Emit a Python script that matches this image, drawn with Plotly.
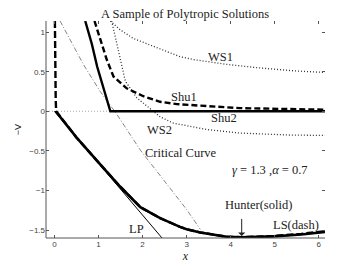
import plotly.graph_objects as go

# ---- data ----
hunter_x = [0.03, 0.5, 1.04, 1.27, 1.49, 1.95, 2.40, 2.85, 3.0, 3.31, 3.57, 3.91, 4.25, 4.6, 4.97, 5.6, 6.14]
hunter_y = [0.0, -0.33, -0.67, -0.82, -0.95, -1.21, -1.35, -1.46, -1.49, -1.53, -1.555, -1.585, -1.59, -1.588, -1.58, -1.555, -1.525]

ls_x = [0.012, 0.015, 0.02, 0.03, 0.04, 0.5, 1.04, 1.27, 1.49, 1.95, 2.40, 2.85, 3.0, 3.31, 3.57, 3.91, 4.25, 4.6, 4.97, 5.6, 6.14]
ls_y = [1.14, 0.8, 0.45, 0.15, 0.0, -0.33, -0.67, -0.82, -0.95, -1.21, -1.35, -1.46, -1.49, -1.53, -1.555, -1.585, -1.59, -1.585, -1.575, -1.548, -1.515]

shu2_x = [0.70, 0.85, 0.97, 1.10, 1.27, 6.14]
shu2_y = [1.14, 0.85, 0.565, 0.32, 0.0, 0.0]

shu1_x = [0.91, 1.04, 1.19, 1.34, 1.64, 2.02, 2.40, 2.78, 3.56, 4.21, 4.69, 6.14]
shu1_y = [1.14, 0.90, 0.65, 0.44, 0.29, 0.19, 0.12, 0.09, 0.06, 0.04, 0.035, 0.02]

ws1_x = [1.27, 1.49, 1.79, 2.17, 2.55, 2.85, 3.19, 3.94, 4.70, 5.45, 6.14]
ws1_y = [1.14, 1.03, 0.92, 0.84, 0.75, 0.69, 0.65, 0.59, 0.545, 0.51, 0.49]

ws2_x = [1.30, 1.42, 1.49, 1.61, 1.87, 2.17, 2.40, 2.70, 3.46, 4.21, 5.35, 6.14]
ws2_y = [1.14, 0.85, 0.71, 0.38, 0.17, 0.03, -0.07, -0.15, -0.23, -0.275, -0.30, -0.305]

crit_x = [0.13, 0.40, 0.66, 1.04, 1.42, 1.95, 2.55, 3.0, 3.31]
crit_y = [1.14, 0.86, 0.59, 0.25, -0.04, -0.49, -0.91, -1.24, -1.49]

lp_x = [0.0, 2.45]
lp_y = [0.0, -1.605]

zero_x = [-0.19, 6.14]
zero_y = [0.0, 0.0]

x_ticks = [0, 1, 2, 3, 4, 5, 6]
y_ticks = [-1.5, -1, -0.5, 0, 0.5, 1]
y_ticklabels = ["\u22121.5", "\u22121", "\u22120.5", "0", "0.5", "1"]

labels = ["WS1", "Shu1", "Shu2", "WS2", "Critical Curve", "LP", "LS(dash)", "Hunter(solid)"]
label_x = [3.78, 2.93, 3.85, 2.38, 2.87, 1.86, 5.48, 4.62]
label_y = [0.69, 0.18, -0.085, -0.23, -0.53, -1.49, -1.43, -1.18]

arrow_x = 4.25
arrow_y_tail = -1.34
arrow_y_head = -1.575

SERIF = "Liberation Serif"

fig = go.Figure()

def add(x, y, width, dash, color="black"):
    fig.add_trace(go.Scatter(x=x, y=y, mode="lines",
                             line=dict(color=color, width=width, dash=dash),
                             showlegend=False, hoverinfo="skip"))

add(zero_x, zero_y, 1, "1px,2px", "#aaaaaa")
add(crit_x, crit_y, 0.9, "5px,2px,1px,2px", "#777777")
add(lp_x, lp_y, 1, "solid")
add(ws1_x, ws1_y, 1.3, "1px,2px", "#333333")
add(ws2_x, ws2_y, 1.3, "1px,2px", "#333333")
add(shu1_x, shu1_y, 2.4, "6px,3px")
add(shu2_x, shu2_y, 2.4, "solid")
add(hunter_x, hunter_y, 2.6, "solid")
add(ls_x, ls_y, 2.4, "7px,3px")

for t, x, y in zip(labels, label_x, label_y):
    fig.add_annotation(x=x, y=y, text=t, showarrow=False,
                       font=dict(family=SERIF, size=12.5, color="#222222"))

fig.add_annotation(x=4.89, y=-0.74,
                   text="<i>\u03b3</i> = 1.3 ,<i>\u03b1</i> = 0.7",
                   showarrow=False, font=dict(family=SERIF, size=12.5, color="#222222"))

fig.add_annotation(x=arrow_x, y=arrow_y_head, ax=arrow_x, ay=arrow_y_tail,
                   xref="x", yref="y", axref="x", ayref="y", text="",
                   showarrow=True, arrowhead=1, arrowsize=1.2, arrowwidth=1,
                   arrowcolor="#222222")

# title
fig.add_annotation(x=(185 - 46) / 279, y=1 + (21 - 14) / 217.5, xref="paper", yref="paper",
                   xanchor="center", yanchor="middle",
                   text="A Sample of Polytropic Solutions", showarrow=False,
                   font=dict(family=SERIF, size=12.5, color="#222222"))

# axis lines (left & bottom only)
fig.add_shape(type="line", xref="paper", yref="paper", x0=0, x1=0, y0=0, y1=1,
              line=dict(color="#555555", width=1))
fig.add_shape(type="line", xref="paper", yref="paper", x0=0, x1=1, y0=0, y1=0,
              line=dict(color="#555555", width=1))

# the page body has an 8px margin, so the figure is sized/offset to compensate
fig.update_layout(
    width=350, height=262,
    margin=dict(l=38, r=33, t=13, b=31.5, autoexpand=False),
    paper_bgcolor="white", plot_bgcolor="white",
    xaxis=dict(range=[-0.19, 6.14], tickvals=x_ticks, ticks="inside", ticklen=3,
               tickcolor="#555555", showline=False, mirror="ticks", showgrid=False,
               zeroline=False, automargin=False,
               tickfont=dict(family="Liberation Sans", size=8, color="#444444"),
               title=dict(text="<i>x</i>", font=dict(family=SERIF, size=12, color="#222222"),
                          standoff=2)),
    yaxis=dict(range=[-1.6, 1.14], tickvals=y_ticks, ticktext=y_ticklabels, ticks="inside",
               ticklen=3, tickcolor="#555555", showline=False, mirror="ticks", showgrid=False,
               zeroline=False, automargin=False,
               tickfont=dict(family="Liberation Sans", size=8, color="#444444"),
               title=dict(text="\u2212V", font=dict(family="Liberation Sans", size=9, color="#222222"),
                          standoff=6)),
)

fig.write_html("out.html")
